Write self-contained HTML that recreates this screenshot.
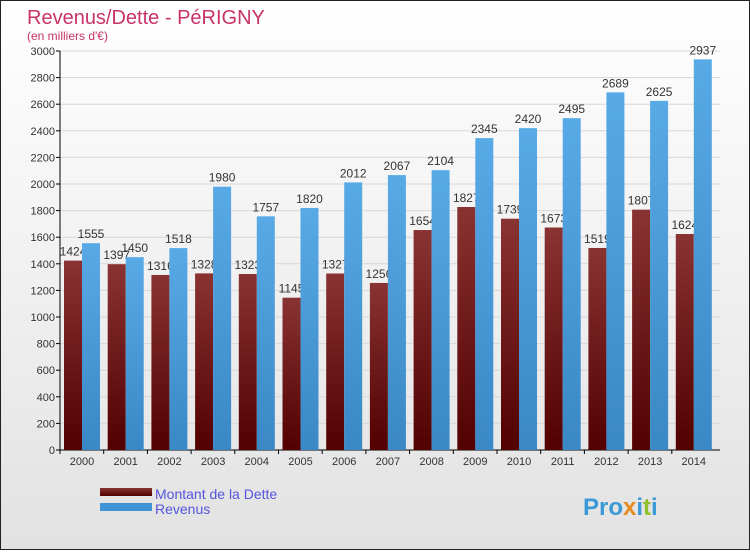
<!DOCTYPE html>
<html><head><meta charset="utf-8"><style>
body{margin:0;width:750px;height:550px;overflow:hidden;font-family:"Liberation Sans",sans-serif}
</style></head><body>
<svg id="c" width="750" height="550" xmlns="http://www.w3.org/2000/svg">
<defs>
<linearGradient id="bg" x1="0" y1="0" x2="0" y2="1"><stop offset="0" stop-color="#ffffff"/><stop offset="1" stop-color="#e2e2e2"/></linearGradient>
<linearGradient id="rb" x1="0" y1="0" x2="0" y2="1"><stop offset="0" stop-color="#8a3333"/><stop offset="1" stop-color="#520000"/></linearGradient>
<linearGradient id="bb" x1="0" y1="0" x2="0" y2="1"><stop offset="0" stop-color="#58aae6"/><stop offset="1" stop-color="#3a88c6"/></linearGradient>
</defs>
<rect x="0.5" y="0.5" width="749" height="549" fill="url(#bg)" stroke="#222"/>
<text x="27" y="24" font-size="20" fill="#c8336a">Revenus/Dette - PéRIGNY</text>
<text x="27" y="40" font-size="12" fill="#c8336a">(en milliers d'€)</text>
<g id="grid"></g><g id="bars"></g>
<rect x="100" y="488" width="52" height="8" fill="url(#rb)"/>
<text x="155" y="499" font-size="14" fill="#5555dd">Montant de la Dette</text>
<rect x="100" y="503" width="52" height="8" fill="#3f94d8"/>
<text x="155" y="514" font-size="14" fill="#5555dd">Revenus</text>
<text x="583" y="515" font-size="24" font-weight="bold" fill="#3a9ad8">Pro<tspan fill="#e58a1f">x</tspan>i<tspan fill="#8fbf2a">t</tspan>i</text>
</svg>
<script>
const years=["2000","2001","2002","2003","2004","2005","2006","2007","2008","2009","2010","2011","2012","2013","2014"];
const dette=[1424,1397,1316,1328,1323,1145,1327,1256,1654,1827,1739,1673,1519,1807,1624];
const revenus=[1555,1450,1518,1980,1757,1820,2012,2067,2104,2345,2420,2495,2689,2625,2937];
const ticks=[0,200,400,600,800,1000,1200,1400,1600,1800,2000,2200,2400,2600,2800,3000];
const NS="http://www.w3.org/2000/svg";
const y0=450,y1=51,vmax=3000,x0=60,step=43.7,xFirst=82;
const Y=v=>y0-(v/vmax)*(y0-y1);
const X=i=>xFirst+i*step;
function mk(t,a,p){const e=document.createElementNS(NS,t);for(const k in a)e.setAttribute(k,a[k]);p.appendChild(e);return e;}
const g=document.getElementById('grid'),b=document.getElementById('bars');
ticks.forEach(t=>{
  const l=mk('line',{x1:x0,x2:720,y1:Y(t),y2:Y(t),stroke:'#d8d8d8'},g);
  
  
  mk('line',{x1:x0-4,x2:x0,y1:Y(t),y2:Y(t),stroke:'#000'},g);
  const tx=mk('text',{x:x0-5,y:Y(t)+4,'font-size':11,'text-anchor':'end',fill:'#333'},g);tx.textContent=t;
  
  
});
mk('line',{x1:x0,x2:x0,y1:y1,y2:y0,stroke:'#000'},g);
mk('line',{x1:x0,x2:720,y1:y0,y2:y0,stroke:'#000'},g);
years.forEach((yr,i)=>{
  const x=X(i);
  mk('line',{x1:x-22,x2:x-22,y1:y0,y2:y0+4,stroke:'#000'},g);
  const tx=mk('text',{x:x,y:y0+15,'font-size':11,'text-anchor':'middle',fill:'#333'},g);tx.textContent=yr;
  
  
  const r=mk('rect',{x:x-18,y:Y(dette[i]),width:18,height:y0-Y(dette[i]),fill:'url(#rb)'},b);
  
  
  const dl=mk('text',{x:x-9,y:Y(dette[i])-5,'font-size':12,'text-anchor':'middle',fill:'#333'},b);dl.textContent=dette[i];
  
  
});
years.forEach((yr,i)=>{
  const x=X(i);
  const r=mk('rect',{x:x,y:Y(revenus[i]),width:18,height:y0-Y(revenus[i]),fill:'url(#bb)'},b);
  
  
  const rl=mk('text',{x:x+9,y:Y(revenus[i])-5,'font-size':12,'text-anchor':'middle',fill:'#333'},b);rl.textContent=revenus[i];
  
  
});
</script>
</body></html>
